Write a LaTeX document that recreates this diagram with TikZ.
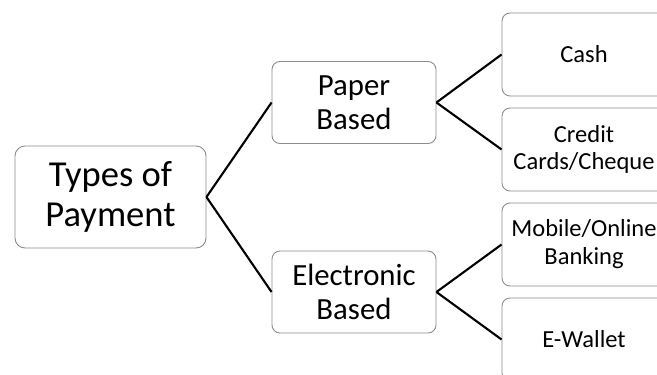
\documentclass[tikz,border=0pt]{standalone}
\usepackage{fontspec}
\setmainfont{Carlito}
\usetikzlibrary{positioning}

\begin{document}
\begin{tikzpicture}[x=1bp,y=-1bp,on grid,
                    root box/.style={rectangle,rounded corners=10bp,draw=black!45,line width=0.9bp,
                      minimum width=191bp,minimum height=102bp,inner sep=0pt,align=center,
                      font=\fontsize{36.7}{40.5}\selectfont},
                    mid box/.style={rectangle,rounded corners=8bp,draw=black!45,line width=0.9bp,
                      minimum width=164bp,minimum height=82bp,inner sep=0pt,align=center,
                      font=\fontsize{30.9}{34}\selectfont},
                    leaf box/.style={rectangle,rounded corners=8bp,draw=black!45,line width=0.9bp,
                      minimum width=164bp,minimum height=83bp,inner sep=0pt,align=center,
                      font=\fontsize{24.6}{28}\selectfont}]

  \useasboundingbox (0,0) rectangle (657,374);
  \clip (0,0) rectangle (657,374);

  \node[root box] (pay) at (110.5,197) {Types of\\Payment};
  \node[mid box] (paper) [above right=94.5bp and 243.5bp of pay] {Paper\\Based};
  \node[mid box] (elec) [below right=95bp and 243.5bp of pay] {Electronic\\Based};

  \node[leaf box] (cash) [above right=48bp and 230bp of paper] {Cash};
  \node[leaf box] (card) [below right=47bp and 230bp of paper] {Credit\\Cards/Cheque};
  \node[leaf box] (online) [above right=47.5bp and 230bp of elec] {Mobile/Online\\Banking};
  \node[leaf box] (wallet) [below right=47.5bp and 230bp of elec] {E-Wallet};

  \path[draw,line width=2.1bp]
    (pay.east) edge (paper.west)
               edge (elec.west)
    (paper.east) edge (cash.west)
                 edge (card.west)
    (elec.east) edge (online.west)
                edge (wallet.west);
\end{tikzpicture}
\end{document}
